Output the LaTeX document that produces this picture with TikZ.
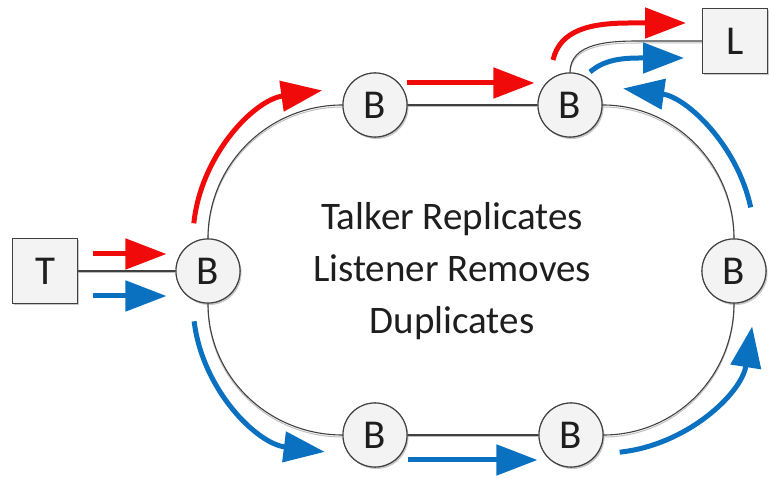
\documentclass[tikz,border=0pt]{standalone}
\usepackage{fontspec}
\setmainfont{Carlito}
\usetikzlibrary{arrows.meta,shadows,calc}
\definecolor{arrred}{RGB}{240,10,10}
\definecolor{arrblue}{RGB}{10,112,192}
\definecolor{nodefill}{RGB}{243,243,243}
\definecolor{txt}{RGB}{30,30,30}
\tikzset{
  bridge/.style={circle, draw=black!75, line width=1.1pt, fill=nodefill, minimum size=64pt, inner sep=0pt,
    font=\fontsize{41}{42}\selectfont, text=txt,
    drop shadow={shadow xshift=1.5pt, shadow yshift=-2pt, opacity=0.25}},
  station/.style={rectangle, draw=black!75, line width=1.1pt, fill=nodefill, minimum size=65pt, inner sep=0pt,
    font=\fontsize{41}{42}\selectfont, text=txt,
    drop shadow={shadow xshift=1.5pt, shadow yshift=-2pt, opacity=0.25}},
  link/.style={draw=black!75, line width=1.1pt,
    preaction={draw=black!25, line width=1pt, transform canvas={yshift=-2pt}}},
  redflow/.style={draw=arrred, line width=5pt, -{Triangle[length=41pt,width=30pt]}},
  blueflow/.style={draw=arrblue, line width=5pt, -{Triangle[length=41pt,width=30pt]}},
}
\begin{document}
\begin{tikzpicture}[x=1pt,y=1pt]
\useasboundingbox (0,0) rectangle (769,478);
% nodes
\node[station] (T) at (45,207) {T};
\node[station] (L) at (735,437) {L};
\node[bridge] (BL) at (208,207) {B};
\node[bridge] (BT1) at (375,373) {B};
\node[bridge] (BT2) at (570,373) {B};
\node[bridge] (BR) at (734,207) {B};
\node[bridge] (BB1) at (375,43) {B};
\node[bridge] (BB2) at (571,43) {B};
% ring links
\path[link] (T) -- (BL);
\path[link] (BL.north) to[out=90,in=180] (BT1.west);
\path[link] (BT1) -- (BT2);
\path[link] (BT2.east) to[out=0,in=90] (BR.north);
\path[link] (BR.south) to[out=-90,in=0] (BB2.east);
\path[link] (BB2) -- (BB1);
\path[link] (BB1.west) to[out=180,in=-90] (BL.south);
\coordinate (LB) at ($(L.west)+(-62,0)$);
\path[link] (BT2.north) to[out=90,in=180] (LB) -- (L.west);
% redraw nodes on top
\node[bridge] at (BL) {B};
\node[bridge] at (BT1) {B};
\node[bridge] at (BT2) {B};
\node[bridge] at (BR) {B};
\node[bridge] at (BB1) {B};
\node[bridge] at (BB2) {B};
\node[station] at (T) {T};
\node[station] at (L) {L};
% flows
\draw[redflow] ($(T.east)+(15,17)$) -- ($(BL.west)+(-9,17)$);
\draw[blueflow] ($(T.east)+(15,-25)$) -- ($(BL.west)+(-9,-25)$);
\draw[redflow] ($(343,239)+(174:150)$) arc[start angle=174, end angle=98, radius=150];
\draw[redflow] ($(BT1.east)+(-1,22)$) -- ($(BT2.west)+(-3,22)$);
\draw[redflow] (553,418) .. controls (560,448) and (590,455) .. (630,455) -- (686,455);
\draw[blueflow] (590,406) .. controls (603,417) and (618,420) .. (640,420) -- (684,420);
\draw[blueflow] ($(602,239)+(12:152)$) arc[start angle=12, end angle=82, radius=152];
\draw[blueflow] ($(604,175)+(-84:150)$) arc[start angle=-84, end angle=-9, radius=150];
\draw[blueflow] ($(BB1.east)+(0,-25)$) -- ($(BB2.west)+(-1,-25)$);
\draw[blueflow] ($(343,175)+(187:150)$) arc[start angle=187, end angle=263, radius=150];
% caption
\node[align=center, text=txt, font=\fontsize{39}{52}\selectfont] (cap) at (452,207)
  {Talker Replicates\\Listener Removes\\Duplicates};
\end{tikzpicture}
\end{document}
